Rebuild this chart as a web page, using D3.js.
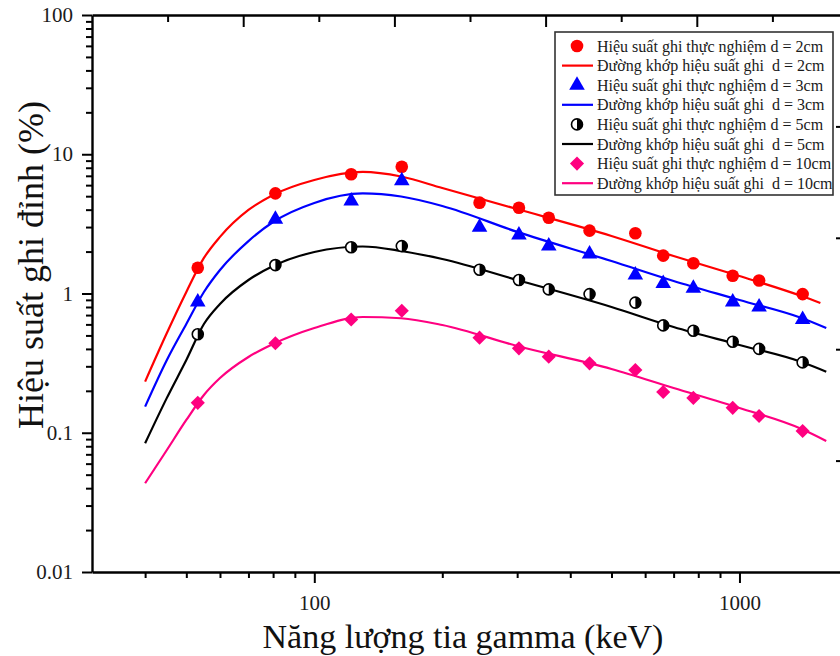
<!DOCTYPE html>
<html>
<head>
<meta charset="utf-8">
<script src="https://cdn.jsdelivr.net/npm/d3@7"></script>
<style>
  html, body { margin: 0; padding: 0; background: #fff; }
  svg { display: block; font-family: "Liberation Serif", "Times New Roman", serif; }
</style>
</head>
<body>
<svg id="chart" width="840" height="656"></svg>
<script>
// Gamma-ray energies of the measured peaks (keV)
const energies = [53.2, 81.0, 122.1, 160.6, 244.7, 302.9, 356.0, 444.0, 569.0, 661.7, 779.0, 964.1, 1112.1, 1408.0];

// Measured full-energy peak efficiency (%) at each source distance
const eff2cm  = [1.53, 5.24, 7.18, 8.14, 4.49, 4.13, 3.50, 2.83, 2.71, 1.87, 1.65, 1.34, 1.24, 0.99];
const eff3cm  = [0.87, 3.41, 4.62, 6.46, 2.99, 2.63, 2.19, 1.92, 1.36, 1.18, 1.09, 0.87, 0.80, 0.65];
const eff5cm  = [0.51, 1.60, 2.15, 2.19, 1.48, 1.25, 1.07, 0.99, 0.86, 0.59, 0.54, 0.45, 0.40, 0.32];
const eff10cm = [0.164, 0.439, 0.651, 0.752, 0.482, 0.404, 0.352, 0.315, 0.282, 0.196, 0.178, 0.151, 0.132, 0.103];

// Fitted efficiency curves (%)
const fitEnergies2cm = [40, 45, 50, 55, 60, 70, 80, 100, 130, 160, 200, 300, 500, 700, 1000, 1400, 1550];
const fitEnergies    = [40, 45, 50, 55, 60, 70, 80, 100, 130, 160, 200, 300, 500, 700, 1000, 1400, 1600];
const fit2cm  = [0.233, 0.520, 1.025, 1.80, 2.55, 3.98, 5.10, 6.53, 7.46, 6.92, 5.72, 4.04, 2.59, 1.86, 1.336, 0.959, 0.855];
const fit3cm  = [0.154, 0.333, 0.604, 1.025, 1.475, 2.38, 3.26, 4.47, 5.23, 4.97, 4.25, 2.77, 1.71, 1.23, 0.898, 0.667, 0.565];
const fit5cm  = [0.084, 0.178, 0.333, 0.604, 0.841, 1.25, 1.576, 1.986, 2.175, 2.02, 1.769, 1.25, 0.80, 0.575, 0.427, 0.322, 0.2745];
const fit10cm = [0.0434, 0.0752, 0.1235, 0.1867, 0.247, 0.350, 0.434, 0.565, 0.678, 0.664, 0.594, 0.420, 0.287, 0.2096, 0.1506, 0.1064, 0.0873];

// Axis ticks and text
const xMajorTicks = [100, 1000];
const yMajorTicks = [0.01, 0.1, 1, 10, 100];
const distances = ["2cm", "3cm", "5cm", "10cm"];
const xTitle = "Năng lượng tia gamma (keV)";
const yTitle = "Hiệu suất ghi đỉnh (%)";

// ---------------------------------------------------------------
const svg = d3.select("#chart");
const plot = { left: 92, right: 848, top: 15, bottom: 572 };
const font = "\"Liberation Serif\", \"Times New Roman\", serif";

const x = d3.scaleLog().domain([30, 1800]).range([plot.left, plot.right]);
const y = d3.scaleLog().domain([0.01, 100]).range([plot.bottom, plot.top]);
// mirror axes on the top and right edges of the frame
const xTop = d3.scaleLinear().domain([0, 5]).range([plot.left, plot.right]);
const yRight = d3.scaleLinear().domain([0, 5]).range([plot.bottom, plot.top]);

const isDecade = v => Math.abs(Math.log10(v) - Math.round(Math.log10(v))) < 1e-9;
const xMinor = x.ticks().filter(v => !isDecade(v) && v > 30);
const yMinor = y.ticks().filter(v => !isDecade(v));
const fmt = d3.format("~g");

function styleAxis(g, showDomain) {
  g.attr("font-family", font).attr("font-size", 21);
  g.select(".domain").attr("stroke", showDomain ? "#000" : "none").attr("stroke-width", 2.4);
  g.selectAll(".tick line").attr("stroke", "#000").attr("stroke-width", 2);
  g.selectAll(".tick text").attr("fill", "#1b1b1b");
}

// bottom axis
svg.append("g").attr("transform", `translate(0,${plot.bottom})`)
  .call(d3.axisBottom(x).tickValues(xMinor).tickSize(6).tickSizeOuter(0).tickFormat(""))
  .call(g => styleAxis(g, true));
svg.append("g").attr("transform", `translate(0,${plot.bottom})`)
  .call(d3.axisBottom(x).tickValues(xMajorTicks).tickSize(11).tickPadding(12).tickFormat(fmt))
  .call(g => styleAxis(g, false));

// left axis
svg.append("g").attr("transform", `translate(${plot.left},0)`)
  .call(d3.axisLeft(y).tickValues(yMinor).tickSize(6).tickSizeOuter(0).tickFormat(""))
  .call(g => styleAxis(g, true));
svg.append("g").attr("transform", `translate(${plot.left},0)`)
  .call(d3.axisLeft(y).tickValues(yMajorTicks).tickSize(10).tickPadding(9).tickFormat(fmt))
  .call(g => styleAxis(g, false));

// top mirror axis (ticks inward)
svg.append("g").attr("transform", `translate(0,${plot.top})`)
  .call(d3.axisBottom(xTop).tickValues(d3.range(0.5, 5, 1)).tickSize(7).tickSizeOuter(0).tickFormat(""))
  .call(g => styleAxis(g, true));
svg.append("g").attr("transform", `translate(0,${plot.top})`)
  .call(d3.axisBottom(xTop).tickValues(d3.range(1, 5, 1)).tickSize(12).tickFormat(""))
  .call(g => styleAxis(g, false));

// right mirror axis (ticks inward)
svg.append("g").attr("transform", `translate(${plot.right},0)`)
  .call(d3.axisLeft(yRight).tickValues(d3.range(1, 5, 1)).tickSize(12).tickSizeOuter(0).tickFormat(""))
  .call(g => styleAxis(g, true));

// axis titles
svg.append("text")
  .attr("x", 463).attr("y", 648)
  .attr("text-anchor", "middle")
  .attr("font-size", 34).attr("fill", "#111")
  .text(xTitle);
svg.append("text")
  .attr("transform", "translate(43,265) rotate(-90)")
  .attr("text-anchor", "middle")
  .attr("font-size", 36).attr("fill", "#111")
  .text(yTitle);

// series
const series = [
  { d: distances[0], pts: eff2cm,  fitE: fitEnergies2cm, fit: fit2cm,  color: "#ff0000", marker: "circle" },
  { d: distances[1], pts: eff3cm,  fitE: fitEnergies,    fit: fit3cm,  color: "#0000ff", marker: "triangle" },
  { d: distances[2], pts: eff5cm,  fitE: fitEnergies,    fit: fit5cm,  color: "#000000", marker: "half" },
  { d: distances[3], pts: eff10cm, fitE: fitEnergies,    fit: fit10cm, color: "#ff0080", marker: "diamond" }
];

const line = d3.line().x(d => x(d[0])).y(d => y(d[1])).curve(d3.curveMonotoneX);

function drawMarker(g, type, color) {
  if (type === "circle") {
    g.append("circle").attr("r", 6.3).attr("fill", color);
  } else if (type === "triangle") {
    g.append("path").attr("d", d3.symbol(d3.symbolTriangle, 105)()).attr("fill", color);
  } else if (type === "diamond") {
    g.append("path").attr("d", d3.symbol(d3.symbolSquare, 100)()).attr("transform", "rotate(45)").attr("fill", color);
  } else {
    const r = 5.5;
    g.append("circle").attr("r", r).attr("fill", "#fff").attr("stroke", color).attr("stroke-width", 1.6);
    g.append("path").attr("d", `M0,${-r} A${r},${r} 0 0 1 0,${r} Z`).attr("fill", color);
  }
}

const layer = svg.append("g");
series.forEach(s => {
  layer.append("path")
    .datum(s.fitE.map((e, i) => [e, s.fit[i]]))
    .attr("d", line)
    .attr("fill", "none")
    .attr("stroke", s.color)
    .attr("stroke-width", 2.2);
});
series.forEach(s => {
  layer.selectAll(null)
    .data(energies.map((e, i) => [e, s.pts[i]]))
    .join("g")
    .attr("transform", d => `translate(${x(d[0])},${y(d[1])})`)
    .each(function () { drawMarker(d3.select(this), s.marker, s.color); });
});

// legend
const legend = svg.append("g").attr("transform", "translate(555,32)");
legend.append("rect").attr("width", 278).attr("height", 163)
  .attr("fill", "#fff").attr("stroke", "#333").attr("stroke-width", 1.6);
const rows = [];
series.forEach(s => {
  rows.push({ kind: "pt", s, label: `Hiệu suất ghi thực nghiệm d = ${s.d}` });
  rows.push({ kind: "ln", s, label: `Đường khớp hiệu suất ghi  d = ${s.d}` });
});
rows.forEach((r, i) => {
  const cy = 14 + i * 19.6;
  const g = legend.append("g").attr("transform", `translate(0,${cy})`);
  if (r.kind === "pt") {
    const m = g.append("g").attr("transform", "translate(22,0)");
    drawMarker(m, r.s.marker, r.s.color);
  } else {
    g.append("line").attr("x1", 7).attr("x2", 38).attr("stroke", r.s.color).attr("stroke-width", 2.2);
  }
  g.append("text").attr("x", 42).attr("y", 5.5)
    .attr("font-size", 16).attr("fill", "#1a1a1a")
    .style("white-space", "pre")
    .text(r.label);
});
</script>
</body>
</html>
